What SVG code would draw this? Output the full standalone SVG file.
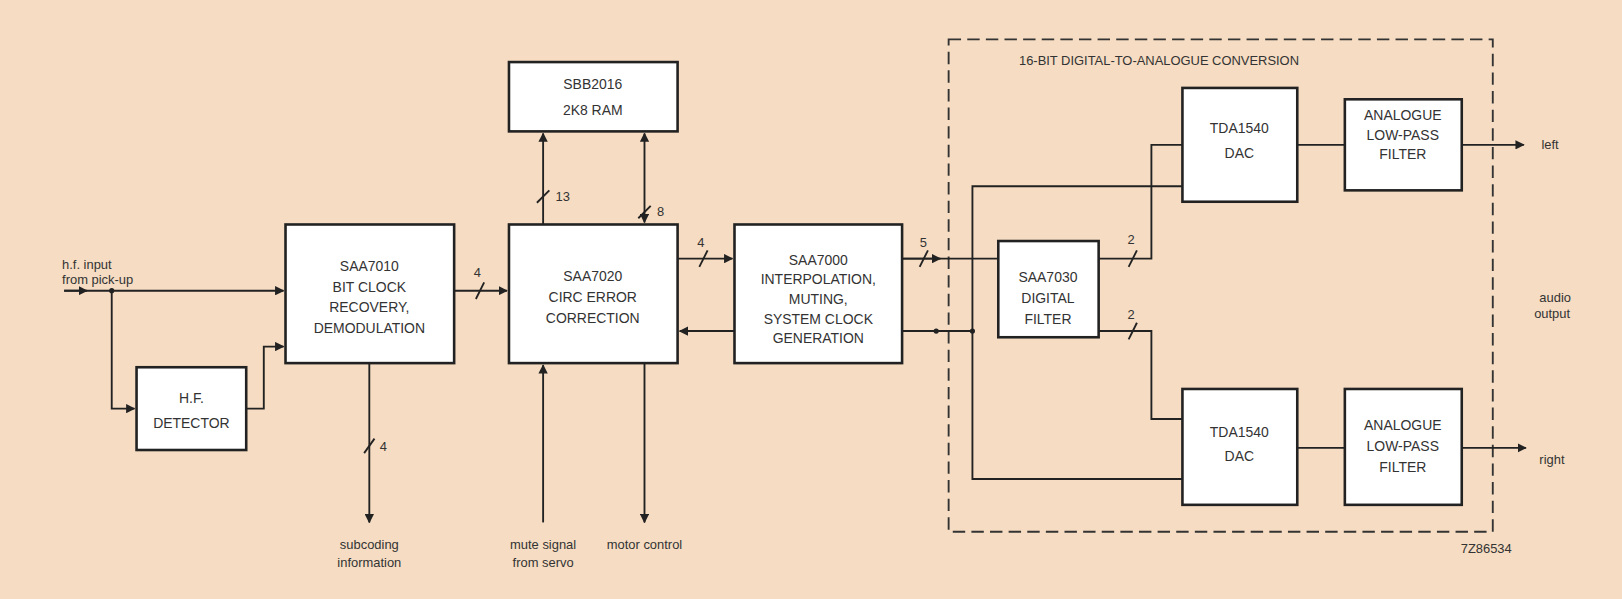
<svg xmlns="http://www.w3.org/2000/svg" width="1622" height="599" viewBox="0 0 1622 599">
<style>
.b{fill:#fff;stroke:#222;stroke-width:2.5}
.t{font-family:"Liberation Sans",Arial,sans-serif;font-size:13.5px;fill:#333;text-anchor:middle}
.s{font-family:"Liberation Sans",Arial,sans-serif;font-size:12.5px;fill:#333}
.c line,.c polyline,.c path{fill:none;stroke:#222;stroke-width:1.8}
</style>
<defs>
<marker id="a" viewBox="0 0 10 10" refX="9" refY="5" markerWidth="5" markerHeight="5" orient="auto-start-reverse"><path d="M0,0L10,5L0,10z" fill="#222"/></marker>
</defs>
<rect width="1622" height="599" fill="#f5dcc2"/>
<g transform="scale(1.0345)">
<rect x="917" y="38" width="526" height="476" fill="none" stroke="#333" stroke-width="1.8" stroke-dasharray="12,6"/>
<text class="s" x="985" y="63">16-BIT DIGITAL-TO-ANALOGUE CONVERSION</text>
<g class="c">
<line x1="62" y1="281" x2="274" y2="281" marker-end="url(#a)"/>
<line x1="62" y1="281" x2="84" y2="281" marker-end="url(#a)"/>
<polyline points="108,281 108,395 130,395" marker-end="url(#a)"/>
<polyline points="238,395 255,395 255,335 274,335" marker-end="url(#a)"/>
<line x1="439" y1="281" x2="490" y2="281" marker-end="url(#a)"/>
<line x1="460" y1="289" x2="468" y2="273"/>
<line x1="357" y1="351" x2="357" y2="505" marker-end="url(#a)"/>
<line x1="352" y1="438" x2="362" y2="424"/>
<line x1="525" y1="217" x2="525" y2="129" marker-end="url(#a)"/>
<line x1="519" y1="196" x2="531" y2="184"/>
<line x1="623" y1="129" x2="623" y2="215" marker-start="url(#a)" marker-end="url(#a)"/>
<line x1="617" y1="211" x2="629" y2="199"/>
<line x1="525" y1="505" x2="525" y2="353" marker-end="url(#a)"/>
<line x1="623" y1="351" x2="623" y2="505" marker-end="url(#a)"/>
<line x1="655" y1="250" x2="708" y2="250" marker-end="url(#a)"/>
<line x1="676" y1="258" x2="684" y2="242"/>
<line x1="710" y1="320" x2="657" y2="320" marker-end="url(#a)"/>
<line x1="872" y1="250" x2="965" y2="250"/>
<line x1="872" y1="250" x2="909" y2="250" marker-end="url(#a)"/>
<line x1="889" y1="258" x2="897" y2="242"/>
<line x1="872" y1="320" x2="940" y2="320"/>
<polyline points="1143,180 940,180 940,463 1143,463"/>
<polyline points="1062,250 1113,250 1113,140 1143,140"/>
<line x1="1091" y1="258" x2="1099" y2="242"/>
<polyline points="1062,320 1113,320 1113,405 1143,405"/>
<line x1="1091" y1="328" x2="1099" y2="312"/>
<line x1="1254" y1="140" x2="1300" y2="140"/>
<line x1="1254" y1="433" x2="1300" y2="433"/>
<line x1="1413" y1="140" x2="1473" y2="140" marker-end="url(#a)"/>
<line x1="1413" y1="433" x2="1475" y2="433" marker-end="url(#a)"/>
</g>
<g fill="#222"><circle cx="108" cy="281" r="2.5"/><circle cx="905" cy="320" r="2.5"/><circle cx="940" cy="320" r="2.5"/></g>
<g class="s">
<text x="60" y="260">h.f. input</text><text x="60" y="275">from pick-up</text>
<text x="458" y="268">4</text><text x="367" y="436">4</text>
<text x="537" y="194">13</text><text x="635" y="209">8</text>
<text x="674" y="239">4</text><text x="889" y="239">5</text>
<text x="1090" y="236">2</text><text x="1090" y="308">2</text>
<text x="1490" y="144">left</text><text x="1488" y="292">audio</text><text x="1483" y="307">output</text>
<text x="1488" y="449">right</text>
<text x="1412" y="535">7Z86534</text>
<text x="357" y="531" text-anchor="middle">subcoding</text><text x="357" y="548" text-anchor="middle">information</text>
<text x="525" y="531" text-anchor="middle">mute signal</text><text x="525" y="548" text-anchor="middle">from servo</text>
<text x="623" y="531" text-anchor="middle">motor control</text>
</g>
<g id="sbb"><rect class="b" x="492" y="60" width="163" height="67"/><text class="t" x="573" y="86">SBB2016</text><text class="t" x="573" y="111">2K8 RAM</text></g>
<g id="saa7010"><rect class="b" x="276" y="217" width="163" height="134"/><text class="t" x="357" y="262">SAA7010</text><text class="t" x="357" y="282">BIT CLOCK</text><text class="t" x="357" y="302">RECOVERY,</text><text class="t" x="357" y="322">DEMODULATION</text></g>
<g id="hfdet"><rect class="b" x="132" y="355" width="106" height="80"/><text class="t" x="185" y="390">H.F.</text><text class="t" x="185" y="414">DETECTOR</text></g>
<g id="saa7020"><rect class="b" x="492" y="217" width="163" height="134"/><text class="t" x="573" y="272">SAA7020</text><text class="t" x="573" y="292">CIRC ERROR</text><text class="t" x="573" y="312">CORRECTION</text></g>
<g id="saa7000"><rect class="b" x="710" y="217" width="162" height="134"/><text class="t" x="791" y="256">SAA7000</text><text class="t" x="791" y="275">INTERPOLATION,</text><text class="t" x="791" y="294">MUTING,</text><text class="t" x="791" y="313">SYSTEM CLOCK</text><text class="t" x="791" y="332">GENERATION</text></g>
<g id="saa7030"><rect class="b" x="965" y="233" width="97" height="93"/><text class="t" x="1013" y="273">SAA7030</text><text class="t" x="1013" y="293">DIGITAL</text><text class="t" x="1013" y="313">FILTER</text></g>
<g id="tda1"><rect class="b" x="1143" y="85" width="111" height="110"/><text class="t" x="1198" y="129">TDA1540</text><text class="t" x="1198" y="153">DAC</text></g>
<g id="tda2"><rect class="b" x="1143" y="376" width="111" height="112"/><text class="t" x="1198" y="422">TDA1540</text><text class="t" x="1198" y="446">DAC</text></g>
<g id="lpf1"><rect class="b" x="1300" y="96" width="113" height="88"/><text class="t" x="1356" y="116">ANALOGUE</text><text class="t" x="1356" y="135">LOW-PASS</text><text class="t" x="1356" y="154">FILTER</text></g>
<g id="lpf2"><rect class="b" x="1300" y="376" width="113" height="112"/><text class="t" x="1356" y="416">ANALOGUE</text><text class="t" x="1356" y="436">LOW-PASS</text><text class="t" x="1356" y="456">FILTER</text></g>
</g>
</svg>
